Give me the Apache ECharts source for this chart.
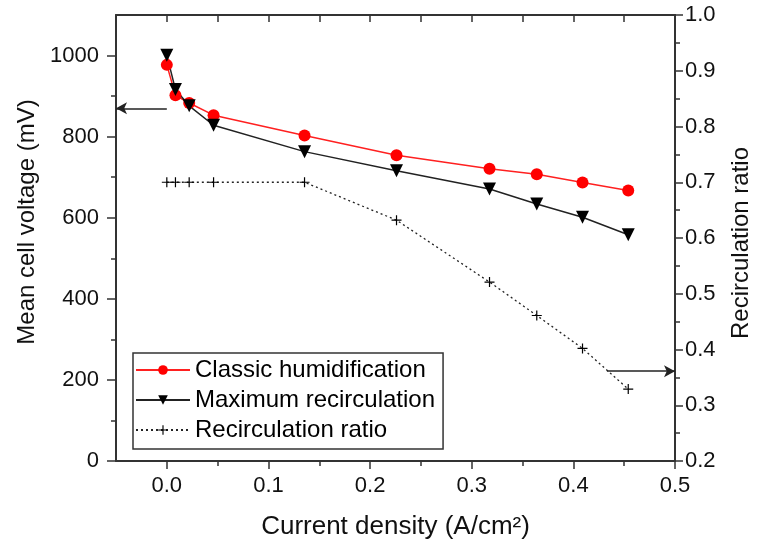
<!DOCTYPE html>
<html><head><meta charset="utf-8">
<script src="https://cdn.jsdelivr.net/npm/echarts@6/dist/echarts.min.js"></script>
<style>html,body{margin:0;padding:0;background:#fff}#c{width:757px;height:549px}</style>
</head><body><div id="c"></div>
<script>
const currentDensity = [0.0, 0.0085, 0.022, 0.046, 0.1355, 0.226, 0.3175, 0.364, 0.409, 0.454];
const classicHumidification = [977, 902, 883, 853, 803, 754, 721, 707, 687, 667];
const maximumRecirculation = [1001, 916, 876, 828, 763, 716, 671, 634, 601, 558];
const recirculationRatio = [0.70, 0.70, 0.70, 0.70, 0.70, 0.632, 0.521, 0.461, 0.402, 0.329];

const xMajorTicks = [0, 0.1, 0.2, 0.3, 0.4, 0.5];
const xMinorTicks = [0.05, 0.15, 0.25, 0.35, 0.45];
const xTopTicks = [0, 0.05, 0.1, 0.15, 0.2, 0.25, 0.3, 0.35, 0.4, 0.45];
const leftMajorTicks = [0, 200, 400, 600, 800, 1000];
const leftMinorTicks = [100, 300, 500, 700, 900];
const rightMajorTicks = [0.2, 0.3, 0.4, 0.5, 0.6, 0.7, 0.8, 0.9, 1.0];
const rightMinorTicks = [0.25, 0.35, 0.45, 0.55, 0.65, 0.75, 0.85, 0.95];

const leftArrow = [[0, 870], [-0.05, 870]];
const rightArrow = [[0.433, 0.361], [0.5, 0.361]];

const FONT = '"Liberation Sans", Arial, sans-serif';
const AX = '#333';

const chart = echarts.init(document.getElementById('c'));
const pairs = (xs, ys) => xs.map((x, i) => [x, ys[i]]);

const baseX = {type: 'value', min: -0.05, max: 0.5, splitLine: {show: false}, gridIndex: 0};
const baseL = {type: 'value', min: 0, max: 1100, splitLine: {show: false}, gridIndex: 0};
const baseR = {type: 'value', min: 0.2, max: 1.0, splitLine: {show: false}, gridIndex: 0};

chart.setOption({
  animation: false,
  backgroundColor: '#fff',
  textStyle: {fontFamily: FONT},
  grid: {left: 116, right: 82, top: 15, bottom: 88, containLabel: false},
  xAxis: [
    Object.assign({}, baseX, {
      position: 'bottom',
      axisLine: {show: true, onZero: false, lineStyle: {color: AX, width: 2}},
      axisTick: {show: true, inside: false, length: 8, customValues: xMajorTicks, lineStyle: {color: AX, width: 1.5}},
      axisLabel: {show: true, customValues: xMajorTicks, margin: 14, fontSize: 22, color: '#111', fontFamily: FONT,
        formatter: v => Number(v).toFixed(1)}
    }),
    Object.assign({}, baseX, {
      position: 'bottom',
      axisLine: {show: false, onZero: false},
      axisTick: {show: true, inside: false, length: 5, customValues: xMinorTicks, lineStyle: {color: AX, width: 1.5}},
      axisLabel: {show: false}
    }),
    Object.assign({}, baseX, {
      position: 'top',
      axisLine: {show: true, onZero: false, lineStyle: {color: AX, width: 2}},
      axisTick: {show: true, inside: true, length: 7, customValues: xTopTicks, lineStyle: {color: AX, width: 1.5}},
      axisLabel: {show: false}
    })
  ],
  yAxis: [
    Object.assign({}, baseL, {
      position: 'left',
      axisLine: {show: true, onZero: false, lineStyle: {color: AX, width: 2}},
      axisTick: {show: true, inside: false, length: 9, customValues: leftMajorTicks, lineStyle: {color: AX, width: 1.5}},
      axisLabel: {show: true, customValues: leftMajorTicks, margin: 17, fontSize: 22, color: '#111', fontFamily: FONT,
        formatter: v => String(Math.round(v))}
    }),
    Object.assign({}, baseR, {
      position: 'right',
      axisLine: {show: true, onZero: false, lineStyle: {color: AX, width: 2}},
      axisTick: {show: true, inside: false, length: 8, customValues: rightMajorTicks, lineStyle: {color: AX, width: 1.5}},
      axisLabel: {show: true, customValues: rightMajorTicks, margin: 10, fontSize: 22, color: '#111', fontFamily: FONT,
        formatter: v => Number(v).toFixed(1)}
    }),
    Object.assign({}, baseL, {
      position: 'left',
      axisLine: {show: false, onZero: false},
      axisTick: {show: true, inside: false, length: 5, customValues: leftMinorTicks, lineStyle: {color: AX, width: 1.5}},
      axisLabel: {show: false}
    }),
    Object.assign({}, baseR, {
      position: 'right',
      axisLine: {show: false, onZero: false},
      axisTick: {show: true, inside: false, length: 5, customValues: rightMinorTicks, lineStyle: {color: AX, width: 1.5}},
      axisLabel: {show: false}
    })
  ],
  legend: {
    show: true,
    orient: 'vertical',
    left: 133, top: 353,
    itemWidth: 54, itemHeight: 12, itemGap: 4,
    borderColor: '#333', borderWidth: 1.5, borderRadius: 0,
    padding: [4, 8, 6, 2],
    textStyle: {fontSize: 24, color: '#000', fontFamily: FONT, lineHeight: 26},
    data: ['Classic humidification', 'Maximum recirculation', 'Recirculation ratio']
  },
  series: [
    {
      name: 'Classic humidification', type: 'line', xAxisIndex: 0, yAxisIndex: 0,
      data: pairs(currentDensity, classicHumidification),
      symbol: 'circle', symbolSize: 12, color: '#ff0000',
      lineStyle: {color: '#ff2020', width: 1.5}, itemStyle: {color: '#ff0000'},
      emphasis: {disabled: true},
      markLine: {
        silent: true, animation: false,
        symbol: ['none', 'arrow'], symbolSize: [9, 11],
        label: {show: false},
        lineStyle: {color: '#222', width: 1.5, type: 'solid'},
        emphasis: {disabled: true},
        data: [[{coord: leftArrow[0]}, {coord: leftArrow[1]}]]
      }
    },
    {
      name: 'Maximum recirculation', type: 'line', xAxisIndex: 0, yAxisIndex: 0,
      data: pairs(currentDensity, maximumRecirculation),
      symbol: 'triangle', symbolRotate: 180, symbolSize: 13, color: '#000',
      lineStyle: {color: '#222', width: 1.5}, itemStyle: {color: '#000'},
      emphasis: {disabled: true}
    },
    {
      name: 'Recirculation ratio', type: 'line', xAxisIndex: 0, yAxisIndex: 1,
      data: pairs(currentDensity, recirculationRatio),
      symbol: 'path://M0,4.4H10V5.6H0Z M4.4,0H5.6V10H4.4Z', symbolSize: 10, color: '#000',
      lineStyle: {color: '#222', width: 1.3, type: [2, 3]}, itemStyle: {color: '#000'},
      emphasis: {disabled: true},
      markLine: {
        silent: true, animation: false,
        symbol: ['none', 'arrow'], symbolSize: [9, 11],
        label: {show: false},
        lineStyle: {color: '#222', width: 1.5, type: 'solid'},
        emphasis: {disabled: true},
        data: [[{coord: rightArrow[0]}, {coord: rightArrow[1]}]]
      }
    }
  ],
  graphic: [
    {type: 'text', x: 27, y: 222, rotation: Math.PI / 2, silent: true,
      style: {text: 'Mean cell voltage (mV)', fontSize: 24, fontFamily: FONT, fill: '#111', align: 'center', verticalAlign: 'middle'}},
    {type: 'text', x: 741, y: 243, rotation: Math.PI / 2, silent: true,
      style: {text: 'Recirculation ratio', fontSize: 24, fontFamily: FONT, fill: '#111', align: 'center', verticalAlign: 'middle'}},
    {type: 'text', x: 395.5, y: 527, silent: true,
      style: {text: 'Current density (A/cm²)', fontSize: 26, fontFamily: FONT, fill: '#111', align: 'center', verticalAlign: 'middle'}}
  ]
});
</script></body></html>
